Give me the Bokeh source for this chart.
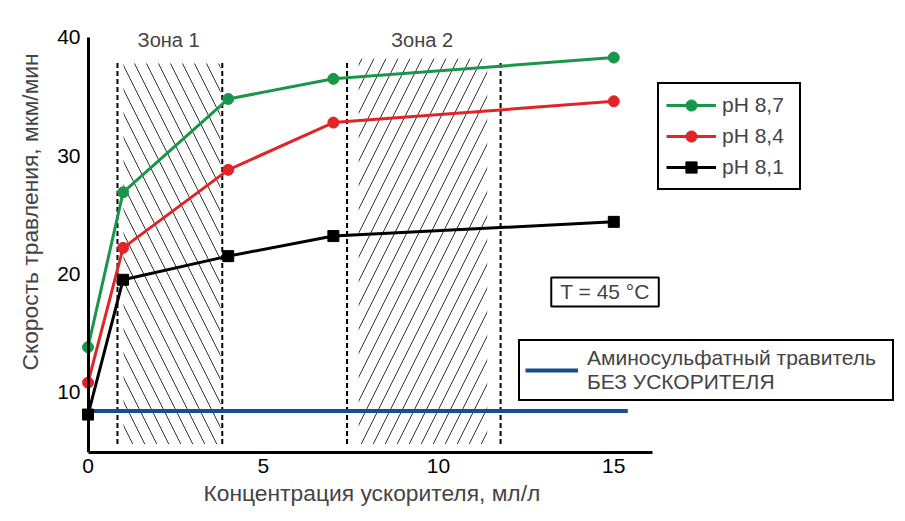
from bokeh.plotting import figure
from bokeh.models import (Range1d, FixedTicker, Legend, LegendItem, Label, Title, LinearAxis)
from bokeh.embed import file_html
from bokeh.resources import INLINE

# ---- data ----
conc = [0, 1, 4, 7, 15]
ph87 = [13.8, 26.9, 34.8, 36.5, 38.3]
ph84 = [10.8, 22.2, 28.8, 32.8, 34.6]
ph81 = [8.1, 19.5, 21.5, 23.2, 24.4]
no_acc_x = [0, 15.4]
no_acc_y = [8.4, 8.4]

zone1 = [1.01, 3.78]          # hatched band, zone 1
zone1_edges = [0.84, 3.83]    # dashed borders
zone2 = [7.72, 11.39]
zone2_edges = [7.39, 11.77]
zone_y = [5.6, 37.9]

x_ticks = [0, 5, 10, 15]
y_ticks = [10, 20, 30, 40]

FONT = "Liberation Sans"
GREEN = "#1a964b"
RED = "#e02428"
BLUE = "#16508c"

p = figure(width=905, height=521, output_backend="svg", toolbar_location=None,
           x_range=Range1d(-0.5, 23.18), y_range=Range1d(4.89, 42.28),
           min_border_left=70, min_border_right=5, min_border_top=10, min_border_bottom=69)
p.outline_line_color = None
p.grid.grid_line_color = None
p.background_fill_color = "white"

def style_axis(ax):
    ax.major_tick_line_color = None
    ax.minor_tick_line_color = None
    ax.major_tick_out = 0
    ax.major_tick_in = 0
    ax.minor_tick_out = 0
    ax.minor_tick_in = 0
    ax.major_label_text_font = FONT
    ax.major_label_text_font_size = "21px"
    ax.major_label_text_color = "black"

xax = p.xaxis[0]
style_axis(xax)
xax.axis_line_width = 3
xax.axis_line_color = "black"
xax.ticker = FixedTicker(ticks=x_ticks)
xax.bounds = (0, 16.1)
xax.major_label_standoff = 6

# y tick labels (regular axis, line hidden, labels pulled to the x = 0 line)
yax = p.yaxis[0]
style_axis(yax)
yax.ticker = FixedTicker(ticks=y_ticks)
yax.axis_line_color = None
yax.major_label_standoff = -10

# y axis line drawn at x = 0
yline = LinearAxis(fixed_location=0, ticker=FixedTicker(ticks=y_ticks), bounds=(4.89, 40),
                   axis_line_width=3, axis_line_color="black")
style_axis(yline)
yline.major_label_text_color = None
yline.major_label_standoff = 0
p.add_layout(yline, "left")

# axis titles (positioned as in the original, off-centre)
p.add_layout(Title(text="Концентрация ускорителя, мл/л", align="left", offset=133,
                   text_font=FONT, text_font_size="22.8px", text_font_style="normal",
                   standoff=4), "below")
p.add_layout(Title(text="Скорость травления, мкм/мин", align="left", offset=82,
                   text_font=FONT, text_font_size="22.8px", text_font_style="normal",
                   standoff=23), "left")

# hatched zones
p.quad(left=[zone1[0]], right=[zone1[1]], bottom=[zone_y[0]], top=[zone_y[1] - 0.1],
       fill_alpha=0, line_color=None, hatch_pattern="\\", hatch_scale=24,
       hatch_color="#333333", hatch_weight=1)
p.quad(left=[zone2[0]], right=[zone2[1]], bottom=[zone_y[0]], top=[zone_y[1] + 0.3],
       fill_alpha=0, line_color=None, hatch_pattern="/", hatch_scale=24,
       hatch_color="#333333", hatch_weight=1)

edges = zone1_edges + zone2_edges
p.segment(x0=edges, x1=edges, y0=[zone_y[0]] * 4, y1=[zone_y[1]] * 4,
          line_color="black", line_width=2, line_dash="5 3")

p.add_layout(Label(x=2.30, y=39.75, text="Зона 1",
                   text_align="center", text_baseline="middle", text_font=FONT,
                   text_font_size="20px"))
p.add_layout(Label(x=9.53, y=39.75, text="Зона 2",
                   text_align="center", text_baseline="middle", text_font=FONT,
                   text_font_size="20px"))

# baseline without accelerator
r_blue = p.line(no_acc_x, no_acc_y, line_color=BLUE, line_width=4)

# series
rg_l = p.line(conc, ph87, line_color=GREEN, line_width=3)
rg_m = p.scatter(conc, ph87, marker="circle", size=11, fill_color=GREEN, line_color=GREEN)
rr_l = p.line(conc, ph84, line_color=RED, line_width=3)
rr_m = p.scatter(conc, ph84, marker="circle", size=11, fill_color=RED, line_color=RED)
rb_l = p.line(conc, ph81, line_color="black", line_width=3)
rb_m = p.scatter(conc, ph81, marker="square", size=11, fill_color="black", line_color="black")

leg1 = Legend(items=[LegendItem(label="pH 8,7", renderers=[rg_l, rg_m]),
                     LegendItem(label="pH 8,4", renderers=[rr_l, rr_m]),
                     LegendItem(label="pH 8,1", renderers=[rb_l, rb_m])],
              location=(587, 262), padding=7, spacing=3, glyph_width=50, glyph_height=28,
              label_standoff=6, label_text_font=FONT, label_text_font_size="21px",
              label_height=28, label_width=70,
              border_line_color="black", border_line_width=2, border_line_alpha=1,
              background_fill_alpha=1, margin=0)
p.add_layout(leg1)

leg2 = Legend(items=[LegendItem(label="Аминосульфатный травитель\nБЕЗ УСКОРИТЕЛЯ", renderers=[r_blue])],
              location=(448, 51), padding=5, glyph_width=53, glyph_height=20,
              label_standoff=9, label_width=300, label_text_font=FONT,
              label_text_font_size="21px", label_text_line_height=1.15,
              border_line_color="black", border_line_width=2, border_line_alpha=1,
              background_fill_alpha=1, margin=0)
p.add_layout(leg2)

p.add_layout(Label(x=14.75, y=18.47, text="T = 45 °C", text_align="center",
                   text_baseline="middle", text_font=FONT, text_font_size="21px",
                   border_line_color="black", border_line_width=2,
                   background_fill_color="white", padding=(9, 3)))

open("out.html", "w").write(file_html(p, INLINE))
